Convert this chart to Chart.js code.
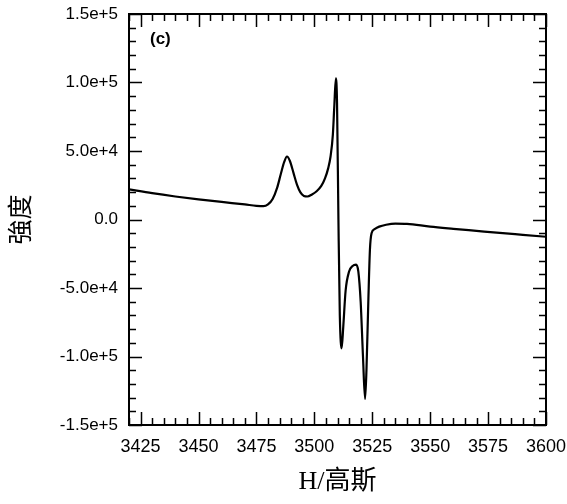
<!DOCTYPE html>
<html>
<head>
<meta charset="utf-8">
<script src="https://cdn.jsdelivr.net/npm/chart.js@4.4.0/dist/chart.umd.min.js"></script>
<style>
  html, body { margin: 0; padding: 0; background: #fff; }
</style>
</head>
<body>
<canvas id="eprCanvas" width="567" height="504"></canvas>
<script>
  // field (gauss) and signal intensity
  var fieldValues = [3420, 3430, 3440, 3450, 3460, 3470, 3475, 3478, 3480, 3482, 3484,
    3485.5, 3487, 3488.2, 3489.5, 3491, 3492.5, 3494, 3495.5, 3497, 3499,
    3501, 3503, 3504.6, 3506, 3507, 3508, 3508.6, 3509.3, 3509.8, 3510.4,
    3511, 3511.8, 3512.5, 3513.5, 3515, 3516.5, 3518, 3519, 3520, 3521,
    3521.9, 3522.5, 3523.3, 3524, 3524.7, 3526, 3528, 3531, 3535, 3540,
    3550, 3560, 3570, 3580, 3590, 3600];
  var intensityValues = [22000, 19200, 16800, 14700, 12800, 11000, 10000, 9700, 11000, 15000, 23500,
    33000, 42000, 46000, 42500, 34000, 25500, 19800, 17200, 16800, 18300,
    20600, 24500, 30000, 37500, 46000, 62000, 82000, 103000, 85000, 0,
    -70000, -94000, -78000, -52000, -38000, -34000, -33000, -38000, -60000, -100000,
    -131000, -110000, -60000, -22000, -10000, -7000, -5200, -3800, -3000, -3200,
    -5200, -6800, -8300, -9800, -11200, -12600];

  var xTickValues = [3425, 3450, 3475, 3500, 3525, 3550, 3575, 3600];
  var yTickValues = [-150000, -100000, -50000, 0, 50000, 100000, 150000];
  var panelLabel = '(c)';
  var xTitle = 'H/高斯';
  var yTitle = '強度';

  var points = fieldValues.map(function(f, i) {
    return { x: f, y: intensityValues[i] };
  });

  function noOverhang(scale) {
    scale.paddingLeft = 0;
    scale.paddingRight = 0;
    scale.paddingTop = 0;
    scale.paddingBottom = 0;
  }

  // frame, inward ticks on all four sides, panel label
  var frameAndTicks = {
    id: 'frameAndTicks',
    afterDatasetsDraw: function(chart) {
      var ctx = chart.ctx;
      var area = chart.chartArea;
      var xs = chart.scales.x;
      var ys = chart.scales.y;
      ctx.save();
      ctx.strokeStyle = '#000';
      ctx.lineWidth = 1.5;
      var v, px, len;
      for (v = 3420; v <= 3600; v += 5) {
        px = Math.round(xs.getPixelForValue(v)) + 0.5;
        len = (v - 3425) % 25 === 0 ? 13 : 7;
        ctx.beginPath();
        ctx.moveTo(px, area.bottom); ctx.lineTo(px, area.bottom - len);
        ctx.moveTo(px, area.top); ctx.lineTo(px, area.top + len);
        ctx.stroke();
      }
      for (v = -150000; v <= 150000; v += 10000) {
        px = Math.round(ys.getPixelForValue(v)) + 0.5;
        len = v % 50000 === 0 ? 13 : 7;
        ctx.beginPath();
        ctx.moveTo(area.left, px); ctx.lineTo(area.left + len, px);
        ctx.moveTo(area.right, px); ctx.lineTo(area.right - len, px);
        ctx.stroke();
      }
      ctx.lineWidth = 2;
      ctx.strokeRect(area.left, area.top, area.right - area.left, area.bottom - area.top);
      ctx.fillStyle = '#000';
      ctx.font = 'bold 17px "Liberation Sans", Arial, sans-serif';
      ctx.textBaseline = 'middle';
      ctx.fillText(panelLabel, area.left + 21, area.top + 25);
      ctx.restore();
    }
  };

  var ctx = document.getElementById('eprCanvas').getContext('2d');
  var eprChart = new Chart(ctx, {
    type: 'line',
    data: {
      datasets: [{
        data: points,
        borderColor: '#000',
        borderWidth: 2.2,
        pointRadius: 0,
        fill: false,
        cubicInterpolationMode: 'monotone'
      }]
    },
    plugins: [frameAndTicks],
    options: {
      responsive: false,
      animation: false,
      layout: { padding: { left: 0, top: 14, right: 21, bottom: 0 } },
      plugins: { legend: { display: false }, tooltip: { enabled: false } },
      scales: {
        x: {
          type: 'linear',
          min: 3420,
          max: 3600,
          afterFit: function(scale) { scale.height = 79; noOverhang(scale); },
          afterBuildTicks: function(scale) {
            scale.ticks = xTickValues.map(function(v) { return { value: v }; });
          },
          grid: { display: false, drawTicks: false },
          border: { display: false },
          ticks: {
            color: '#000',
            padding: 11,
            maxRotation: 0,
            font: { family: '"Liberation Sans", Arial, sans-serif', size: 18 },
            callback: function(v) { return String(v); }
          },
          title: {
            display: true,
            text: xTitle,
            color: '#000',
            padding: { top: 0, bottom: 6 },
            font: { family: '"Liberation Serif", "Noto Sans CJK SC", serif', size: 26 }
          }
        },
        y: {
          type: 'linear',
          min: -150000,
          max: 150000,
          afterFit: function(scale) { scale.width = 129; noOverhang(scale); },
          afterBuildTicks: function(scale) {
            scale.ticks = yTickValues.map(function(v) { return { value: v }; });
          },
          grid: { display: false, drawTicks: false },
          border: { display: false },
          ticks: {
            color: '#000',
            padding: 11,
            font: { family: '"Liberation Sans", Arial, sans-serif', size: 17 },
            callback: function(v) {
              return v === 0 ? '0.0' : Number(v).toExponential(1);
            }
          },
          title: {
            display: true,
            text: yTitle,
            color: '#000',
            padding: { top: 4, bottom: 0 },
            font: { family: '"Noto Sans CJK TC", "Noto Sans CJK SC", serif', size: 25 }
          }
        }
      }
    }
  });
</script>
</body>
</html>
